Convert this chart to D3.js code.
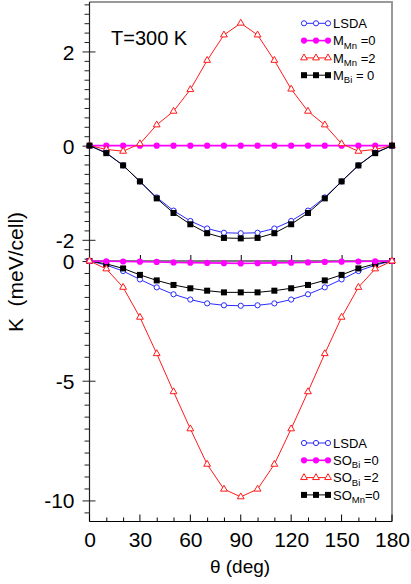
<!DOCTYPE html>
<html><head><meta charset="utf-8">
<script src="https://cdn.jsdelivr.net/npm/d3@7"></script>
<style>
html,body{margin:0;padding:0;background:#fff;}
svg{display:block;font-family:"Liberation Sans",Arial,Helvetica,sans-serif;}
</style></head>
<body>
<svg id="c" width="411" height="584"></svg>
<script>
const theta = [0,10,20,30,40,50,60,70,80,90,100,110,120,130,140,150,160,170,180];
// top panel (magnetization constraints)
const lsdaTop = [0,-0.15,-0.42,-0.76,-1.10,-1.38,-1.60,-1.76,-1.85,-1.86,-1.85,-1.76,-1.60,-1.38,-1.10,-0.76,-0.42,-0.15,0];
const mMn0 = [0,0,0,0,0,0,0,0,0,0,0,0,0,0,0,0,0,0,0];
const mMn2 = [0,-0.08,-0.12,0.04,0.44,0.73,1.19,1.81,2.35,2.60,2.35,1.81,1.20,0.73,0.44,0.04,-0.12,-0.08,0];
const mBi0 = [0,-0.16,-0.42,-0.76,-1.12,-1.43,-1.67,-1.86,-1.96,-1.97,-1.96,-1.86,-1.67,-1.43,-1.12,-0.76,-0.42,-0.16,0];
// bottom panel (spin-orbit scaling)
const lsdaBot = [0,-0.17,-0.42,-0.77,-1.10,-1.39,-1.61,-1.77,-1.85,-1.87,-1.85,-1.77,-1.61,-1.39,-1.10,-0.77,-0.42,-0.17,0];
const soBi0 = [0,-0.01,-0.02,-0.03,-0.04,-0.06,-0.07,-0.08,-0.09,-0.10,-0.09,-0.08,-0.07,-0.06,-0.04,-0.03,-0.02,-0.01,0];
const soBi2 = [0,-0.33,-1.10,-2.35,-3.87,-5.46,-7.01,-8.49,-9.53,-9.85,-9.53,-8.49,-7.01,-5.46,-3.87,-2.35,-1.10,-0.33,0];
const soMn0 = [0,-0.12,-0.31,-0.58,-0.81,-1.00,-1.14,-1.24,-1.31,-1.31,-1.31,-1.24,-1.14,-1.00,-0.81,-0.58,-0.31,-0.12,0];

const xTicks = [0,30,60,90,120,150,180];
const xMinor = [10,20,40,50,70,80,100,110,130,140,160,170];
const topMajor = [-2,0,2];
const botMajor = [-10,-5,0];

const svg = d3.select("#c");
const x = d3.scaleLinear([0,180],[89.5,392]);
const yT = d3.scaleLinear([-2.45,3.05],[261,2]);
const yB = d3.scaleLinear([-10.88,0],[521.5,261]);

const BLUE="#2a2aff", MAG="#ff00ff", RED="#ff1a1a", BLK="#000";
const fmt = v => String(v);

// frame (gray top/right)
svg.append("line").attr("x1",x(0)).attr("x2",x(180)+1).attr("y1",yT.range()[1]).attr("y2",yT.range()[1]).attr("stroke","#999").attr("stroke-width",2);
svg.append("line").attr("x1",x(180)).attr("x2",x(180)).attr("y1",yT.range()[1]).attr("y2",yB.range()[0]).attr("stroke","#999").attr("stroke-width",2);

function leftAxis(y, major, minorStep){
  const [d0,d1] = y.domain();
  const minor = d3.range(Math.ceil(d0/minorStep)*minorStep, d1+1e-9, minorStep)
     .map(v=>+v.toFixed(3)).filter(v=>!major.some(m=>Math.abs(m-v)<1e-6));
  const gm = svg.append("g").attr("transform",`translate(${x(0)},0)`)
    .call(d3.axisLeft(y).tickValues(minor).tickSize(5).tickFormat(""));
  gm.select(".domain").remove();
  gm.selectAll("line").attr("stroke","#222");
  const g = svg.append("g").attr("transform",`translate(${x(0)},0)`)
    .call(d3.axisLeft(y).tickValues(major).tickSize(7).tickPadding(8).tickFormat(fmt));
  g.select(".domain").remove();
  g.selectAll(".tick line").attr("x1",6).attr("stroke","#222");
  g.selectAll("text").attr("font-size",21).attr("fill","#000").attr("font-family","Liberation Sans,Arial,sans-serif").attr("dy","0.36em");
}
leftAxis(yT, topMajor, 0.2);
leftAxis(yB, botMajor, 0.5);
// left axis line
svg.append("line").attr("x1",x(0)).attr("x2",x(0)).attr("y1",yT.range()[1]).attr("y2",yB.range()[0]).attr("stroke","#222").attr("stroke-width",1.2);

// top panel bottom axis (shared line)
const gmid = svg.append("g").attr("transform",`translate(0,${yT.range()[0]})`)
  .call(d3.axisTop(x).tickValues(xTicks.slice(1,-1)).tickSize(6).tickFormat(""));
gmid.select(".domain").attr("d",`M${x(0)},0H${x(180)}`).attr("stroke","#000");

// bottom x axis
const gbm = svg.append("g").attr("transform",`translate(0,${yB.range()[0]})`)
  .call(d3.axisTop(x).tickValues(xMinor).tickSize(4).tickFormat(""));
gbm.select(".domain").remove();
const gb = svg.append("g").attr("transform",`translate(0,${yB.range()[0]})`)
  .call(d3.axisBottom(x).tickValues(xTicks).tickSize(0).tickPadding(11).tickFormat(fmt));
gb.select(".domain").attr("d",`M${x(0)},0H${x(180)}`).attr("stroke","#000").attr("stroke-width",1.2);
gb.selectAll("text").attr("font-size",21).attr("fill","#000").attr("font-family","Liberation Sans,Arial,sans-serif");
svg.append("g").selectAll("line").data(xTicks).join("line")
  .attr("x1",d=>x(d)).attr("x2",d=>x(d)).attr("y1",yB.range()[0]).attr("y2",yB.range()[0]-7).attr("stroke","#000");

// axis titles
svg.append("text").attr("x",240).attr("y",573).attr("text-anchor","middle").attr("font-size",19).text("θ (deg)");
svg.append("text").attr("transform","translate(23,272) rotate(-90)").attr("text-anchor","middle").attr("font-size",21).attr("xml:space","preserve").text("K  (meV/cell)");
svg.append("text").attr("x",111).attr("y",45).attr("font-size",20).text("T=300 K");

// markers
function marker(g, type, color, cx, cy){
  if(type==="openCircle") g.append("circle").attr("cx",cx).attr("cy",cy).attr("r",2.6).attr("fill","#fff").attr("stroke",color).attr("stroke-width",1);
  else if(type==="dot") g.append("circle").attr("cx",cx).attr("cy",cy).attr("r",3.1).attr("fill",color);
  else if(type==="tri") g.append("path").attr("d",d3.symbol(d3.symbolTriangle,20)()).attr("transform",`translate(${cx},${cy})`).attr("fill","#fff").attr("stroke",color).attr("stroke-width",1);
  else if(type==="square") g.append("rect").attr("x",cx-3).attr("y",cy-3).attr("width",6).attr("height",6).attr("fill",color);
}
function series(y, vals, color, type, lw){
  const g = svg.append("g");
  g.append("path").datum(vals).attr("fill","none").attr("stroke",color).attr("stroke-width",lw||1)
    .attr("d",d3.line().x((d,i)=>x(theta[i])).y(d=>y(d)));
  vals.forEach((v,i)=>marker(g,type,color,x(theta[i]),y(v)));
}
// top panel
series(yT, mMn0, MAG, "dot", 1.6);
series(yT, mMn2, RED, "tri");
series(yT, lsdaTop, BLUE, "openCircle");
series(yT, mBi0, BLK, "square");
// bottom panel
series(yB, lsdaBot, BLUE, "openCircle");
series(yB, soMn0, BLK, "square");
series(yB, soBi0, MAG, "dot", 1.6);
series(yB, soBi2, RED, "tri");

// legends
function legend(y0, entries){
  entries.forEach((e,i)=>{
    const yy = y0 + i*17.3;
    const g = svg.append("g");
    g.append("line").attr("x1",304).attr("x2",328).attr("y1",yy).attr("y2",yy).attr("stroke",e.color).attr("stroke-width",e.lw||1);
    [304,316,328].forEach(cx=>marker(g,e.type,e.color,cx,yy));
    const t = g.append("text").attr("x",333).attr("y",yy+4.6).attr("font-size",13).attr("xml:space","preserve");
    t.append("tspan").text(e.main);
    if(e.sub){ t.append("tspan").attr("font-size",9.5).attr("dy",3.5).text(e.sub);
               t.append("tspan").attr("dy",-3.5).text(e.rest); }
  });
}
legend(23.3, [
  {main:"LSDA", color:BLUE, type:"openCircle"},
  {main:"M", sub:"Mn", rest:" =0", color:MAG, type:"dot", lw:1.6},
  {main:"M", sub:"Mn", rest:" =2", color:RED, type:"tri"},
  {main:"M", sub:"Bi", rest:" = 0", color:BLK, type:"square"}
]);
legend(443, [
  {main:"LSDA", color:BLUE, type:"openCircle"},
  {main:"SO", sub:"Bi", rest:" =0", color:MAG, type:"dot", lw:1.6},
  {main:"SO", sub:"Bi", rest:" =2", color:RED, type:"tri"},
  {main:"SO", sub:"Mn", rest:"=0", color:BLK, type:"square"}
]);
</script>
</body></html>
